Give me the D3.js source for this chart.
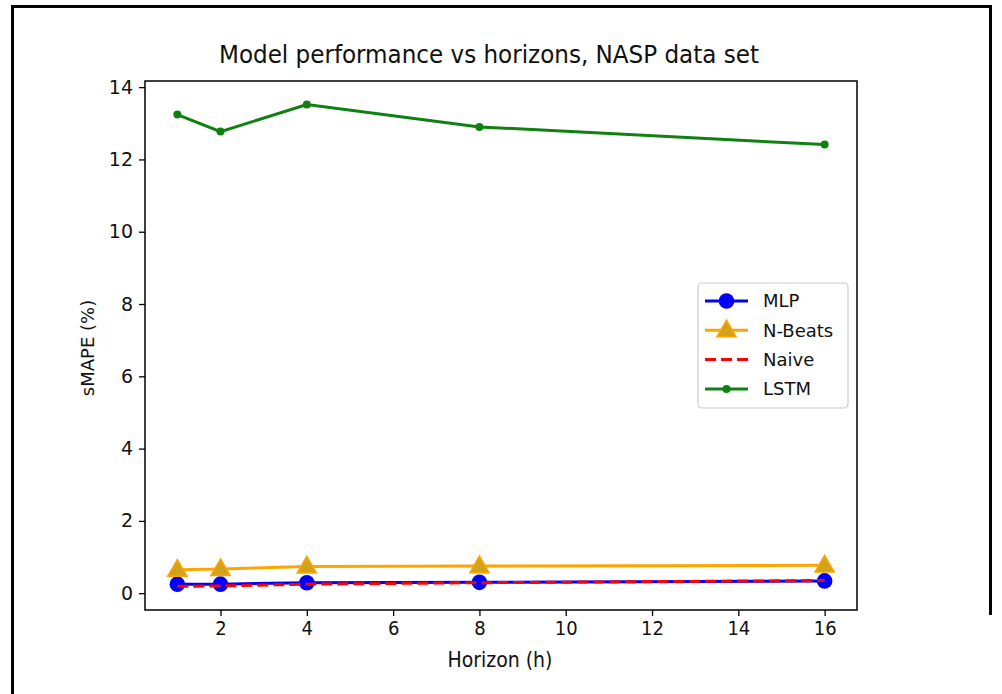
<!DOCTYPE html>
<html>
<head>
<meta charset="utf-8">
<script src="https://cdn.jsdelivr.net/npm/d3@7"></script>
<style>
  body { margin: 0; background: #fff; }
  svg { display: block; }
  .narrow { font-family: "DejaVu Sans Condensed", "Liberation Sans Narrow", "DejaVu Sans", sans-serif; }
</style>
</head>
<body>
<svg id="chart"></svg>
<script>
const horizons = [1, 2, 4, 8, 16];
const mlp = [0.25, 0.25, 0.29, 0.30, 0.34];
const nbeats = [0.65, 0.67, 0.74, 0.75, 0.77];
const naive = [0.19, 0.20, 0.25, 0.29, 0.35];
const lstm = [13.24, 12.77, 13.52, 12.90, 12.41];
const xTicks = [2, 4, 6, 8, 10, 12, 14, 16];
const yTicks = [0, 2, 4, 6, 8, 10, 12, 14];
const seriesNames = ["MLP", "N-Beats", "Naive", "LSTM"];

const W = 1002, H = 694;
const margin = {top: 81, right: 145, bottom: 84, left: 145};
const width = W - margin.left - margin.right,
      height = H - margin.top - margin.bottom;

const svg = d3.select("#chart").attr("width", W).attr("height", H);

// outer frame of the screenshot
svg.append("path")
    .attr("d", "M12.5,694 V6.5 H990.5 V615")
    .attr("fill", "none")
    .attr("stroke", "#000")
    .attr("stroke-width", 3);

const x = d3.scaleLinear().domain([0.25, 16.75]).range([0, width]);
const y = d3.scaleLinear().domain([-0.465, 14.17]).range([height, 0]);

const chart = svg.append("g")
    .attr("transform", `translate(${margin.left},${margin.top})`);

const styles = {
    "MLP": {values: mlp, color: "#0000ff", marker: "circle", r: 7.8, dash: null},
    "N-Beats": {values: nbeats, color: "#ffa500", marker: "triangle", dash: null},
    "Naive": {values: naive, color: "#ff0000", marker: null, dash: "11,5"},
    "LSTM": {values: lstm, color: "#108010", marker: "dot", r: 4, dash: null}
};
const series = seriesNames.map(n => Object.assign({name: n}, styles[n]));

const line = d3.line().x(d => x(d.h)).y(d => y(d.v));

function drawMarker(g, s, cx, cy) {
    if (s.marker === "circle" || s.marker === "dot") {
        g.append("circle").attr("cx", cx).attr("cy", cy).attr("r", s.r)
            .attr("fill", s.color);
    } else if (s.marker === "triangle") {
        g.append("path")
            .attr("d", d3.symbol().type(d3.symbolTriangle).size(160)())
            .attr("transform", `translate(${cx},${cy + 1})`)
            .attr("fill", "#d4a21a")
            .attr("stroke", "#ffa500")
            .attr("stroke-width", 1.5);
    }
}

for (const s of series) {
    const pts = horizons.map((h, i) => ({h: h, v: s.values[i]}));
    chart.append("path")
        .datum(pts)
        .attr("fill", "none")
        .attr("stroke", s.color)
        .attr("stroke-width", 3)
        .attr("stroke-dasharray", s.dash)
        .attr("d", line);
    const mg = chart.append("g");
    for (const p of pts) drawMarker(mg, s, x(p.h), y(p.v));
}

// frame
chart.append("rect")
    .attr("width", width).attr("height", height)
    .attr("fill", "none").attr("stroke", "#000").attr("stroke-width", 1.5);

// axes
const xAxis = chart.append("g")
    .attr("transform", `translate(0,${height})`)
    .call(d3.axisBottom(x).tickValues(xTicks).tickSize(6).tickPadding(5));
xAxis.select(".domain").remove();
xAxis.selectAll("line").attr("stroke-width", 1.3);
xAxis.selectAll("text")
    .attr("class", "narrow")
    .attr("font-size", 20)
    .attr("fill", "#111");

const yAxis = chart.append("g")
    .call(d3.axisLeft(y).tickValues(yTicks).tickSize(6).tickPadding(6));
yAxis.select(".domain").remove();
yAxis.selectAll("line").attr("stroke-width", 1.3);
yAxis.selectAll("text")
    .attr("font-family", "DejaVu Sans, sans-serif")
    .attr("font-size", 19)
    .attr("fill", "#111");

// title and labels
svg.append("text")
    .attr("class", "narrow")
    .attr("x", 489).attr("y", 63)
    .attr("text-anchor", "middle")
    .attr("font-size", 25)
    .attr("textLength", 540)
    .attr("lengthAdjust", "spacingAndGlyphs")
    .attr("fill", "#111")
    .text("Model performance vs horizons, NASP data set");

svg.append("text")
    .attr("class", "narrow")
    .attr("x", 500).attr("y", 667)
    .attr("text-anchor", "middle")
    .attr("font-size", 21)
    .attr("fill", "#111")
    .text("Horizon (h)");

svg.append("text")
    .attr("transform", "translate(94,348) rotate(-90)")
    .attr("text-anchor", "middle")
    .attr("font-family", "DejaVu Sans, sans-serif")
    .attr("font-size", 18)
    .attr("fill", "#111")
    .text("sMAPE (%)");

// legend
const lg = svg.append("g");
lg.append("rect")
    .attr("x", 698).attr("y", 283)
    .attr("width", 150).attr("height", 125)
    .attr("rx", 4)
    .attr("fill", "#fff").attr("fill-opacity", 0.8)
    .attr("stroke", "#cccccc").attr("stroke-width", 1.2);

series.forEach((s, i) => {
    const cy = 301 + i * 29.3;
    lg.append("line")
        .attr("x1", 705).attr("x2", 748)
        .attr("y1", cy).attr("y2", cy)
        .attr("stroke", s.color).attr("stroke-width", 3)
        .attr("stroke-dasharray", s.dash);
    drawMarker(lg, s, 726.5, cy);
    lg.append("text")
        .attr("x", 763).attr("y", cy)
        .attr("dy", "0.35em")
        .attr("font-family", "DejaVu Sans, sans-serif")
        .attr("font-size", 18)
        .attr("fill", "#111")
        .text(s.name);
});
</script>
</body>
</html>
